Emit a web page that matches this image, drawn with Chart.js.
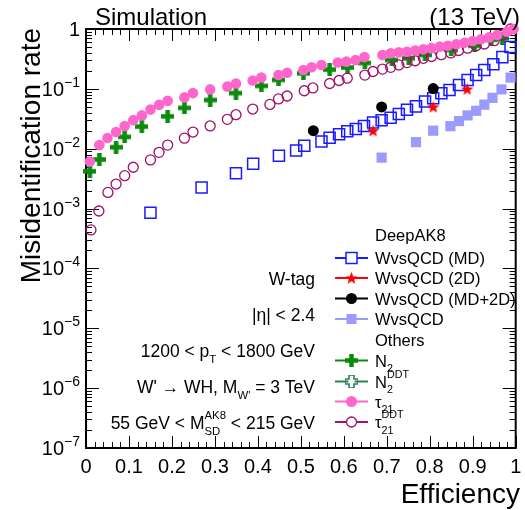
<!DOCTYPE html>
<html lang="en">
<head>
<meta charset="UTF-8">
<title>W-tag misidentification rate</title>
<script src="https://cdn.jsdelivr.net/npm/chart.js"></script>
<style>
    body { margin: 0; background: #ffffff; }
    #chart { display: block; }
</style>
</head>
<body>
<canvas id="chart" width="525" height="510"></canvas>
<script>
    // DeepAK8 WvsQCD (mass decorrelated)
    const mdEff  = [0.15, 0.269, 0.349, 0.389, 0.449, 0.489, 0.508, 0.548, 0.567, 0.589, 0.608, 0.628, 0.647, 0.668, 0.688,
                    0.709, 0.728, 0.747, 0.768, 0.789, 0.808, 0.827, 0.846, 0.868, 0.888, 0.908, 0.927, 0.948, 0.969, 0.988];
    const mdRate = [0.00085, 0.00224, 0.0039, 0.0056, 0.0076, 0.0093, 0.0112, 0.0132, 0.0153, 0.0174, 0.0195, 0.0214, 0.024, 0.0275, 0.030,
                    0.033, 0.038, 0.0447, 0.051, 0.0617, 0.0697, 0.0845, 0.096, 0.116, 0.141, 0.171, 0.207, 0.257, 0.339, 0.50];

    // DeepAK8 WvsQCD (2D)
    const twoDEff  = [0.668, 0.808, 0.887];
    const twoDRate = [0.020, 0.050, 0.099];

    // DeepAK8 WvsQCD (MD+2D)
    const mdTwoDEff  = [0.529, 0.688, 0.808];
    const mdTwoDRate = [0.020, 0.050, 0.101];

    // DeepAK8 WvsQCD (nominal)
    const nomEff  = [0.688, 0.768, 0.808, 0.848, 0.868, 0.888, 0.908, 0.927, 0.946, 0.967, 0.988];
    const nomRate = [0.0071, 0.0129, 0.020, 0.0238, 0.029, 0.036, 0.043, 0.0545, 0.0708, 0.098, 0.154];

    // N2
    const n2Eff  = [0.009, 0.031, 0.07, 0.09, 0.13, 0.19, 0.229, 0.289, 0.349, 0.408, 0.448, 0.506, 0.567, 0.609, 0.649,
                    0.712, 0.751, 0.789, 0.85, 0.904, 0.943, 0.969];
    const n2Rate = [0.0042, 0.0066, 0.0106, 0.0158, 0.0234, 0.0347, 0.048, 0.065, 0.085, 0.112, 0.141, 0.182, 0.21, 0.227, 0.271,
                    0.304, 0.324, 0.368, 0.447, 0.525, 0.66, 0.70];

    // N2 DDT
    const n2DdtEff  = [];
    const n2DdtRate = [];

    // tau21
    const tauEff  = [0.009, 0.031, 0.05, 0.07, 0.09, 0.11, 0.13, 0.15, 0.17, 0.19, 0.229, 0.249, 0.289, 0.329, 0.349, 0.388, 0.408, 0.448, 0.468,
                     0.506, 0.525, 0.548, 0.586, 0.606, 0.627, 0.648,
                     0.69, 0.709, 0.728, 0.747, 0.766, 0.785, 0.804, 0.823, 0.842, 0.862, 0.881, 0.9, 0.919, 0.938, 0.957, 0.98, 0.995];
    const tauRate = [0.0061, 0.0115, 0.0151, 0.019, 0.024, 0.030, 0.036, 0.045, 0.054, 0.063, 0.072, 0.085, 0.098, 0.109, 0.123, 0.138, 0.155, 0.170, 0.186,
                     0.2065, 0.229, 0.251, 0.275, 0.285, 0.302, 0.339,
                     0.367, 0.394, 0.407, 0.417, 0.437, 0.457, 0.479, 0.507, 0.525, 0.556, 0.589, 0.631, 0.676, 0.724, 0.794, 0.90, 1.0];

    // tau21 DDT
    const tauDdtEff  = [0.0115, 0.030, 0.051, 0.070, 0.090, 0.110, 0.150, 0.170, 0.190, 0.229, 0.249, 0.289, 0.329, 0.349, 0.388,
                        0.428, 0.448, 0.468, 0.508, 0.528, 0.567, 0.589, 0.608, 0.649, 0.668, 0.690, 0.709, 0.728, 0.747, 0.766,
                        0.785, 0.804, 0.827, 0.849, 0.867, 0.888, 0.908, 0.927, 0.950, 0.969, 0.988];
    const tauDdtRate = [0.00044, 0.00091, 0.00186, 0.00257, 0.00355, 0.0049, 0.0065, 0.0087, 0.0115, 0.015, 0.019, 0.024, 0.031, 0.037, 0.046,
                        0.055, 0.068, 0.076, 0.093, 0.1035, 0.123, 0.138, 0.151, 0.170, 0.195, 0.214, 0.229, 0.251, 0.275, 0.295,
                        0.324, 0.347, 0.372, 0.398, 0.437, 0.479, 0.525, 0.562, 0.638, 0.794, 1.0];

    // axis tick labels
    const xTickValues = [0, 0.1, 0.2, 0.3, 0.4, 0.5, 0.6, 0.7, 0.8, 0.9, 1];
    const xTickLabels = ['0', '0.1', '0.2', '0.3', '0.4', '0.5', '0.6', '0.7', '0.8', '0.9', '1'];
    const yTickExponents = [-7, -6, -5, -4, -3, -2, -1, 0];

    const FONT = '"Liberation Sans", Arial, Helvetica, sans-serif';
    const font = size => `${size}px ${FONT}`;

    const COL = {
        md: '#1a1aff',
        twoD: '#ff0000',
        mdTwoD: '#000000',
        nom: '#9a9aff',
        n2: '#0a8a0a',
        n2Ddt: '#2f7f55',
        tau: '#ff66cc',
        tauDdt: '#a0106e'
    };

    // filled five point star
    function makeStar(color, size) {
        const c = document.createElement('canvas');
        c.width = size; c.height = size;
        const g = c.getContext('2d');
        const r1 = size / 2, r2 = size / 4.6, cx = size / 2, cy = size / 2 + 0.5;
        g.beginPath();
        for (let i = 0; i < 10; i++) {
            const r = i % 2 === 0 ? r1 : r2;
            const a = -Math.PI / 2 + i * Math.PI / 5;
            g.lineTo(cx + r * Math.cos(a), cy + r * Math.sin(a));
        }
        g.closePath();
        g.fillStyle = color;
        g.fill();
        return c;
    }

    // thick plus sign, filled or open
    function makeCross(color, size, arm, open) {
        const c = document.createElement('canvas');
        c.width = size; c.height = size;
        const g = c.getContext('2d');
        const a = (size - arm) / 2;
        g.beginPath();
        g.moveTo(a, 0); g.lineTo(a + arm, 0); g.lineTo(a + arm, a); g.lineTo(size, a);
        g.lineTo(size, a + arm); g.lineTo(a + arm, a + arm); g.lineTo(a + arm, size);
        g.lineTo(a, size); g.lineTo(a, a + arm); g.lineTo(0, a + arm); g.lineTo(0, a); g.lineTo(a, a);
        g.closePath();
        if (open) {
            g.strokeStyle = color; g.lineWidth = 1.6;
            g.stroke();
        } else {
            g.fillStyle = color;
            g.fill();
        }
        return c;
    }

    const starImg = makeStar(COL.twoD, 13);
    const crossImg = makeCross(COL.n2, 13, 4.5, false);
    const openCrossImg = makeCross(COL.n2Ddt, 13, 5, true);

    const toPoints = (xs, ys) => xs.map((x, i) => ({ x: x, y: ys[i] }));

    function series(label, xs, ys, style) {
        return Object.assign({
            label: label,
            data: toPoints(xs, ys),
            showLine: false,
            clip: false,
            pointHoverRadius: 0
        }, style);
    }

    // dataset 0 is painted last, so it sits on top
    const datasets = [
        series('WvsQCD (MD+2D)', mdTwoDEff, mdTwoDRate, {
            pointStyle: 'circle', pointRadius: 5.5, pointBackgroundColor: COL.mdTwoD, pointBorderColor: COL.mdTwoD, pointBorderWidth: 0 }),
        series('WvsQCD (2D)', twoDEff, twoDRate, { pointStyle: starImg, pointRadius: 6 }),
        series('WvsQCD (MD)', mdEff, mdRate, {
            pointStyle: 'rect', pointRadius: 7.8, pointBackgroundColor: 'rgba(0,0,0,0)', pointBorderColor: COL.md, pointBorderWidth: 1.5 }),
        series('WvsQCD', nomEff, nomRate, {
            pointStyle: 'rect', pointRadius: 7.2, pointBackgroundColor: COL.nom, pointBorderColor: COL.nom, pointBorderWidth: 0 }),
        series('tau21', tauEff, tauRate, {
            pointStyle: 'circle', pointRadius: 5.3, pointBackgroundColor: COL.tau, pointBorderColor: COL.tau, pointBorderWidth: 0 }),
        series('tau21 DDT', tauDdtEff, tauDdtRate, {
            pointStyle: 'circle', pointRadius: 5, pointBackgroundColor: 'rgba(0,0,0,0)', pointBorderColor: COL.tauDdt, pointBorderWidth: 1.3 }),
        series('N2', n2Eff, n2Rate, { pointStyle: crossImg, pointRadius: 6 }),
        series('N2 DDT', n2DdtEff, n2DdtRate, { pointStyle: openCrossImg, pointRadius: 6 })
    ];

    // text with sub/superscripts: parts are strings or {sub, sup}
    function richWidth(ctx, parts, size) {
        let w = 0;
        parts.forEach(p => {
            if (typeof p === 'string') {
                ctx.font = font(size);
                w += ctx.measureText(p).width;
            } else {
                ctx.font = font(size * 0.65);
                w += Math.max(p.sub ? ctx.measureText(p.sub).width : 0, p.sup ? ctx.measureText(p.sup).width : 0);
            }
        });
        return w;
    }

    function drawRich(ctx, parts, x, y, size, align) {
        let cx = align === 'right' ? x - richWidth(ctx, parts, size) : x;
        ctx.textAlign = 'left';
        ctx.textBaseline = 'alphabetic';
        parts.forEach(p => {
            if (typeof p === 'string') {
                ctx.font = font(size);
                ctx.fillText(p, cx, y);
                cx += ctx.measureText(p).width;
            } else {
                ctx.font = font(size * 0.65);
                let w = 0;
                if (p.sub) {
                    ctx.fillText(p.sub, cx, y + size * 0.36);
                    w = Math.max(w, ctx.measureText(p.sub).width);
                }
                if (p.sup) {
                    ctx.fillText(p.sup, cx, y - size * 0.58);
                    w = Math.max(w, ctx.measureText(p.sup).width);
                }
                cx += w;
            }
        });
    }

    function drawMarker(ctx, kind, x, y) {
        ctx.save();
        if (kind === 'md') {
            ctx.strokeStyle = COL.md; ctx.lineWidth = 1.5;
            ctx.fillStyle = '#fff';
            ctx.fillRect(x - 5.5, y - 5.5, 11, 11);
            ctx.strokeRect(x - 5.5, y - 5.5, 11, 11);
        } else if (kind === 'twoD') {
            ctx.drawImage(starImg, x - 6.5, y - 6.5);
        } else if (kind === 'mdTwoD') {
            ctx.fillStyle = COL.mdTwoD;
            ctx.beginPath(); ctx.arc(x, y, 5.5, 0, Math.PI * 2); ctx.fill();
        } else if (kind === 'nom') {
            ctx.fillStyle = COL.nom;
            ctx.fillRect(x - 5, y - 5, 10, 10);
        } else if (kind === 'n2') {
            ctx.drawImage(crossImg, x - 6.5, y - 6.5);
        } else if (kind === 'n2Ddt') {
            ctx.fillStyle = '#fff';
            ctx.fillRect(x - 3, y - 6, 6, 12);
            ctx.drawImage(openCrossImg, x - 6.5, y - 6.5);
        } else if (kind === 'tau') {
            ctx.fillStyle = COL.tau;
            ctx.beginPath(); ctx.arc(x, y, 5.5, 0, Math.PI * 2); ctx.fill();
        } else if (kind === 'tauDdt') {
            ctx.strokeStyle = COL.tauDdt; ctx.lineWidth = 1.3; ctx.fillStyle = '#fff';
            ctx.beginPath(); ctx.arc(x, y, 5, 0, Math.PI * 2); ctx.fill(); ctx.stroke();
        }
        ctx.restore();
    }

    const legendRows = [
        { text: ['DeepAK8'], y: 241 },
        { text: ['WvsQCD (MD)'], y: 264, kind: 'md' },
        { text: ['WvsQCD (2D)'], y: 284, kind: 'twoD' },
        { text: ['WvsQCD (MD+2D)'], y: 304.5, kind: 'mdTwoD' },
        { text: ['WvsQCD'], y: 325, kind: 'nom' },
        { text: ['Others'], y: 346 },
        { text: ['N', { sub: '2' }], y: 366.5, kind: 'n2' },
        { text: ['N', { sub: '2', sup: 'DDT' }], y: 387.5, kind: 'n2Ddt' },
        { text: ['\u03c4', { sub: '21' }], y: 407.5, kind: 'tau' },
        { text: ['\u03c4', { sub: '21', sup: 'DDT' }], y: 428, kind: 'tauDdt' }
    ];

    const infoLines = [
        { text: ['W-tag'], y: 285 },
        { text: ['|\u03b7| < 2.4'], y: 320.5 },
        { text: ['1200 < p', { sub: 'T' }, ' < 1800 GeV'], y: 357 },
        { text: ["W' \u2192 WH, M", { sub: "W'" }, ' = 3 TeV'], y: 393 },
        { text: ['55 GeV < M', { sub: 'SD', sup: 'AK8' }, ' < 215 GeV'], y: 429 }
    ];

    const frameAndText = {
        id: 'frameAndText',
        beforeDatasetsDraw(chart) {
            const { ctx, chartArea: a, scales: { x, y } } = chart;
            ctx.save();
            ctx.strokeStyle = '#000';
            ctx.lineWidth = 1;
            ctx.beginPath();
            // x ticks every 0.02, long ones every 0.1
            for (let i = 0; i <= 50; i++) {
                const px = Math.round(x.getPixelForValue(i / 50)) + 0.5;
                const len = i % 5 === 0 ? 12 : 6;
                ctx.moveTo(px, a.bottom); ctx.lineTo(px, a.bottom - len);
                ctx.moveTo(px, a.top); ctx.lineTo(px, a.top + len);
            }
            // log ticks on y
            for (let e = -7; e < 0; e++) {
                for (let m = 1; m <= 9; m++) {
                    const v = m * Math.pow(10, e);
                    const py = Math.round(y.getPixelForValue(v)) + 0.5;
                    const len = m === 1 ? 13 : 6;
                    ctx.moveTo(a.left, py); ctx.lineTo(a.left + len, py);
                    ctx.moveTo(a.right, py); ctx.lineTo(a.right - len, py);
                }
            }
            ctx.stroke();
            ctx.lineWidth = 2;
            ctx.strokeRect(a.left, a.top, a.right - a.left, a.bottom - a.top);
            ctx.restore();
        },
        afterDraw(chart) {
            const { ctx, chartArea: a, scales: { x, y } } = chart;
            ctx.save();
            ctx.fillStyle = '#000';

            // x tick labels
            ctx.font = font(20);
            ctx.textAlign = 'center';
            ctx.textBaseline = 'alphabetic';
            xTickValues.forEach((v, i) => {
                ctx.fillText(xTickLabels[i], x.getPixelForValue(v), 473);
            });

            // y tick labels 10^n
            yTickExponents.forEach(e => {
                const py = y.getPixelForValue(Math.pow(10, e));
                if (e === 0) {
                    ctx.font = font(20);
                    ctx.textAlign = 'right';
                    ctx.fillText('1', 80, py + 7);
                    return;
                }
                const sup = '\u2212' + (-e);
                ctx.font = font(14);
                const sw = ctx.measureText(sup).width;
                ctx.textAlign = 'left';
                ctx.fillText(sup, 80 - sw, py - 2);
                ctx.font = font(20);
                ctx.textAlign = 'right';
                ctx.fillText('10', 80 - sw, py + 7);
            });

            // axis titles
            ctx.font = font(28);
            ctx.textAlign = 'right';
            ctx.fillText('Efficiency', 520, 503);
            ctx.save();
            ctx.translate(40, 28);
            ctx.rotate(-Math.PI / 2);
            ctx.fillText('Misidentification rate', 0, 0);
            ctx.restore();

            // header
            ctx.font = font(24);
            ctx.textAlign = 'left';
            ctx.fillText('Simulation', 95, 25);
            ctx.textAlign = 'right';
            ctx.fillText('(13 TeV)', 520, 25);

            // selection info
            infoLines.forEach(l => drawRich(ctx, l.text, 315, l.y, 17.5, 'right'));

            // legend
            legendRows.forEach(r => {
                drawRich(ctx, r.text, 375, r.y, 16.5, 'left');
                if (!r.kind) return;
                const my = r.y - 6;
                ctx.strokeStyle = COL[r.kind];
                ctx.lineWidth = 2;
                ctx.beginPath();
                ctx.moveTo(335, my); ctx.lineTo(368, my);
                ctx.stroke();
                drawMarker(ctx, r.kind, 351.5, my);
            });
            ctx.restore();
        }
    };

    new Chart(document.getElementById('chart'), {
        type: 'scatter',
        data: { datasets: datasets },
        options: {
            responsive: false,
            animation: false,
            devicePixelRatio: 1,
            events: [],
            layout: { padding: { left: 86, top: 29, right: 3, bottom: 62 } },
            scales: {
                x: { type: 'linear', min: 0, max: 1, display: false },
                y: { type: 'logarithmic', min: 1e-7, max: 1, display: false }
            },
            plugins: {
                legend: { display: false },
                tooltip: { enabled: false }
            }
        },
        plugins: [frameAndText]
    });
</script>
</body>
</html>
